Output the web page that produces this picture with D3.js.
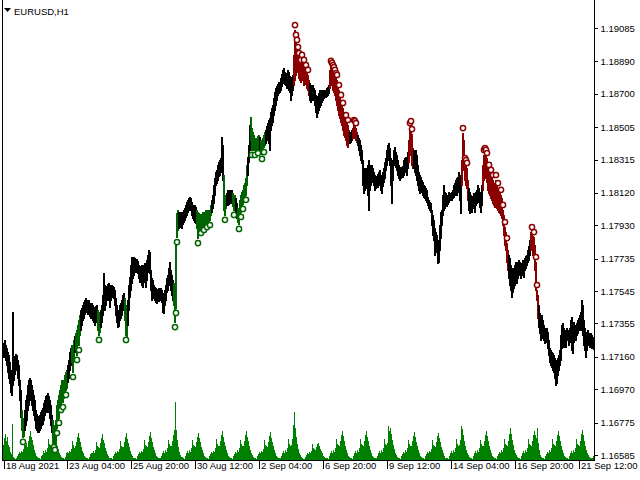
<!DOCTYPE html>
<html><head><meta charset="utf-8">
<script src="https://cdn.jsdelivr.net/npm/d3@7"></script>
<style>body{margin:0;background:#fff}svg{display:block}text{font-family:"Liberation Sans",Arial,sans-serif}</style>
</head><body><svg id="c" width="640" height="480"></svg>
<script>
const symbol = "EURUSD,H1";
const highs = [
1.17240,1.17258,1.17229,1.17211,1.17188,1.17171,1.17129,1.17083,1.17054,1.17422,
1.17141,1.17165,1.17177,1.17171,1.17141,1.17112,1.17024,1.16966,1.16849,1.16790,
1.16802,1.16849,1.16907,1.16937,1.16995,1.17024,1.17036,1.17024,1.16995,1.16966,
1.16937,1.16907,1.16849,1.16826,1.16814,1.16802,1.16820,1.16837,1.16849,1.16860,
1.16889,1.16907,1.16931,1.16937,1.16948,1.16931,1.16907,1.16878,1.16820,1.16790,
1.16761,1.16743,1.16790,1.16878,1.16907,1.16937,1.16966,1.16995,1.17024,1.17006,
1.17024,1.17054,1.17071,1.17083,1.17112,1.17141,1.17188,1.17211,1.17229,1.17229,
1.17258,1.17282,1.17299,1.17317,1.17346,1.17375,1.17405,1.17434,1.17446,1.17464,
1.17481,1.17493,1.17504,1.17493,1.17481,1.17493,1.17475,1.17464,1.17475,1.17464,
1.17452,1.17434,1.17458,1.17464,1.17434,1.17422,1.17405,1.17434,1.17464,1.17522,
1.17650,1.17581,1.17563,1.17575,1.17587,1.17592,1.17581,1.17569,1.17581,1.17575,
1.17569,1.17551,1.17504,1.17464,1.17434,1.17422,1.17464,1.17475,1.17493,1.17522,
1.17533,1.17504,1.17464,1.17434,1.17493,1.17581,1.17627,1.17698,1.17744,1.17738,
1.17744,1.17738,1.17727,1.17732,1.17721,1.17698,1.17680,1.17692,1.17698,1.17680,
1.17698,1.17709,1.17692,1.17727,1.17756,1.17785,1.17773,1.17668,1.17621,1.17610,
1.17581,1.17569,1.17563,1.17551,1.17557,1.17563,1.17551,1.17563,1.17551,1.17533,
1.17522,1.17551,1.17581,1.17621,1.17639,1.17680,1.17715,1.17668,1.17639,1.17610,
1.17592,1.17522,1.17844,1.18002,1.18020,1.18008,1.18002,1.18008,1.17997,1.18008,
1.18020,1.18031,1.18049,1.18066,1.18078,1.18090,1.18096,1.18090,1.18066,1.18049,
1.18037,1.18049,1.18037,1.18020,1.18008,1.18002,1.17991,1.17997,1.17991,1.18008,
1.18002,1.18008,1.18020,1.18014,1.18020,1.18008,1.18020,1.18049,1.18078,1.18108,
1.18166,1.18207,1.18242,1.18254,1.18283,1.18300,1.18312,1.18324,1.18447,1.18400,
1.18225,1.18090,1.18108,1.18119,1.18137,1.18125,1.18137,1.18131,1.18137,1.18119,
1.18102,1.18108,1.18090,1.18060,1.18031,1.18020,1.18078,1.18108,1.18125,1.18137,
1.18166,1.18177,1.18207,1.18283,1.18330,1.18400,1.18517,1.18564,1.18499,1.18476,
1.18459,1.18441,1.18429,1.18441,1.18453,1.18459,1.18447,1.18429,1.18423,1.18441,
1.18459,1.18476,1.18488,1.18511,1.18528,1.18546,1.18558,1.18593,1.18617,1.18635,
1.18675,1.18710,1.18734,1.18746,1.18758,1.18769,1.18763,1.18792,1.18816,1.18839,
1.18851,1.18827,1.18821,1.18810,1.18839,1.18827,1.18804,1.18781,1.18798,1.18810,
1.18927,1.19073,1.19015,1.18986,1.18944,1.18909,1.18886,1.18869,1.18898,1.18886,
1.18869,1.18851,1.18839,1.18827,1.18810,1.18781,1.18763,1.18752,1.18740,1.18752,
1.18734,1.18722,1.18693,1.18675,1.18687,1.18704,1.18722,1.18710,1.18722,1.18710,
1.18722,1.18716,1.18722,1.18734,1.18740,1.18752,1.18839,1.18863,1.18851,1.18839,
1.18827,1.18810,1.18792,1.18781,1.18752,1.18722,1.18693,1.18664,1.18646,1.18617,
1.18593,1.18576,1.18546,1.18534,1.18517,1.18488,1.18476,1.18470,1.18488,1.18499,
1.18517,1.18511,1.18499,1.18476,1.18459,1.18441,1.18429,1.18400,1.18371,1.18312,
1.18266,1.18254,1.18266,1.18254,1.18283,1.18312,1.18283,1.18266,1.18283,1.18266,
1.18242,1.18225,1.18213,1.18219,1.18231,1.18242,1.18254,1.18225,1.18207,1.18242,
1.18266,1.18300,1.18324,1.18371,1.18400,1.18411,1.18382,1.18324,1.18254,1.18312,
1.18371,1.18388,1.18359,1.18342,1.18312,1.18283,1.18271,1.18266,1.18271,1.18277,
1.18312,1.18324,1.18330,1.18312,1.18359,1.18429,1.18499,1.18511,1.18464,1.18382,
1.18371,1.18359,1.18371,1.18342,1.18283,1.18242,1.18225,1.18213,1.18195,1.18183,
1.18166,1.18160,1.18148,1.18137,1.18096,1.18078,1.18066,1.18060,1.18020,1.17991,
1.17961,1.17914,1.17890,1.17873,1.17815,1.17844,1.17932,1.18008,1.18020,1.18108,
1.18166,1.18125,1.18119,1.18102,1.18108,1.18125,1.18113,1.18119,1.18125,1.18137,
1.18166,1.18177,1.18195,1.18207,1.18213,1.18242,1.18225,1.18207,1.18312,1.18470,
1.18429,1.18294,1.18283,1.18266,1.18195,1.18148,1.18125,1.18108,1.18096,1.18102,
1.18119,1.18108,1.18125,1.18137,1.18166,1.18148,1.18125,1.18108,1.18166,1.18283,
1.18342,1.18353,1.18342,1.18324,1.18283,1.18254,1.18242,1.18225,1.18207,1.18195,
1.18166,1.18177,1.18195,1.18166,1.18148,1.18137,1.18119,1.18108,1.18090,1.18020,
1.17991,1.17920,1.17890,1.17826,1.17785,1.17756,1.17738,1.17698,1.17668,1.17680,
1.17668,1.17698,1.17715,1.17680,1.17715,1.17727,1.17715,1.17698,1.17709,1.17727,
1.17715,1.17738,1.17750,1.17756,1.17785,1.17809,1.17844,1.17890,1.17890,1.17867,
1.17861,1.17815,1.17715,1.17551,1.17522,1.17464,1.17416,1.17387,1.17405,1.17375,
1.17346,1.17328,1.17317,1.17328,1.17305,1.17258,1.17211,1.17200,1.17188,1.17182,
1.17171,1.17153,1.17141,1.17129,1.17153,1.17171,1.17200,1.17288,1.17346,1.17357,
1.17328,1.17317,1.17305,1.17328,1.17317,1.17305,1.17328,1.17375,1.17393,1.17346,
1.17363,1.17346,1.17334,1.17357,1.17375,1.17387,1.17405,1.17422,1.17493,1.17464,
1.17375,1.17328,1.17288,1.17305,1.17317,1.17299,1.17288,1.17299,1.17288,1.17276,1.17258];
const lows = [
1.17159,1.17188,1.17141,1.17112,1.17071,1.17036,1.17006,1.16954,1.16937,1.16995,
1.17024,1.17060,1.17094,1.17083,1.17036,1.16995,1.16907,1.16808,1.16732,1.16691,
1.16697,1.16732,1.16761,1.16790,1.16849,1.16878,1.16919,1.16907,1.16878,1.16849,
1.16820,1.16790,1.16743,1.16732,1.16720,1.16720,1.16732,1.16743,1.16761,1.16767,
1.16790,1.16820,1.16849,1.16837,1.16860,1.16837,1.16802,1.16761,1.16720,1.16685,
1.16661,1.16644,1.16673,1.16743,1.16761,1.16802,1.16849,1.16878,1.16907,1.16895,
1.16919,1.16948,1.16966,1.16977,1.17012,1.17036,1.17083,1.17112,1.17129,1.17071,
1.17153,1.17188,1.17200,1.17171,1.17240,1.17229,1.17288,1.17317,1.17346,1.17375,
1.17387,1.17411,1.17422,1.17434,1.17411,1.17422,1.17399,1.17387,1.17405,1.17375,
1.17363,1.17346,1.17387,1.17363,1.17317,1.17288,1.17305,1.17334,1.17363,1.17405,
1.17464,1.17434,1.17464,1.17493,1.17504,1.17493,1.17452,1.17493,1.17510,1.17516,
1.17504,1.17464,1.17405,1.17363,1.17334,1.17340,1.17375,1.17387,1.17405,1.17434,
1.17446,1.17375,1.17288,1.17276,1.17346,1.17434,1.17510,1.17551,1.17592,1.17621,
1.17639,1.17656,1.17656,1.17668,1.17650,1.17621,1.17598,1.17610,1.17581,1.17569,
1.17598,1.17610,1.17569,1.17610,1.17656,1.17680,1.17650,1.17551,1.17493,1.17510,
1.17504,1.17493,1.17481,1.17475,1.17493,1.17487,1.17493,1.17504,1.17481,1.17422,
1.17416,1.17464,1.17493,1.17539,1.17551,1.17581,1.17598,1.17551,1.17522,1.17493,
1.17464,1.17363,1.17446,1.17861,1.17902,1.17914,1.17920,1.17932,1.17914,1.17938,
1.17949,1.17961,1.17979,1.17991,1.18008,1.18020,1.18031,1.18020,1.17991,1.17973,
1.17961,1.17949,1.17943,1.17914,1.17855,1.17890,1.17902,1.17914,1.17914,1.17926,
1.17932,1.17938,1.17943,1.17949,1.17949,1.17943,1.17961,1.17991,1.18008,1.18031,
1.18060,1.18108,1.18166,1.18177,1.18195,1.18219,1.18225,1.18242,1.18283,1.18195,
1.18020,1.17991,1.18031,1.18049,1.18049,1.18055,1.18066,1.18060,1.18078,1.18043,
1.18020,1.18031,1.18008,1.17973,1.17949,1.17938,1.17985,1.18008,1.18031,1.18055,
1.18078,1.18090,1.18108,1.18166,1.18225,1.18300,1.18371,1.18429,1.18371,1.18382,
1.18371,1.18371,1.18359,1.18371,1.18382,1.18371,1.18359,1.18353,1.18348,1.18371,
1.18388,1.18400,1.18411,1.18429,1.18441,1.18411,1.18371,1.18488,1.18517,1.18534,
1.18576,1.18605,1.18635,1.18664,1.18693,1.18704,1.18710,1.18722,1.18746,1.18763,
1.18781,1.18758,1.18752,1.18734,1.18763,1.18722,1.18710,1.18664,1.18693,1.18722,
1.18752,1.18781,1.18810,1.18839,1.18827,1.18792,1.18781,1.18769,1.18792,1.18781,
1.18752,1.18763,1.18758,1.18734,1.18722,1.18693,1.18664,1.18652,1.18664,1.18675,
1.18664,1.18635,1.18593,1.18564,1.18587,1.18605,1.18623,1.18635,1.18652,1.18664,
1.18675,1.18681,1.18681,1.18687,1.18693,1.18704,1.18734,1.18769,1.18752,1.18722,
1.18710,1.18693,1.18664,1.18635,1.18605,1.18576,1.18558,1.18534,1.18517,1.18488,
1.18459,1.18447,1.18429,1.18400,1.18388,1.18411,1.18411,1.18417,1.18429,1.18441,
1.18459,1.18441,1.18429,1.18417,1.18400,1.18371,1.18342,1.18312,1.18294,1.18166,
1.18119,1.18137,1.18166,1.18148,1.18108,1.18020,1.18137,1.18166,1.18183,1.18195,
1.18166,1.18137,1.18148,1.18160,1.18154,1.18177,1.18166,1.18137,1.18119,1.18160,
1.18183,1.18207,1.18254,1.18283,1.18312,1.18324,1.18283,1.18166,1.18060,1.18195,
1.18283,1.18300,1.18271,1.18254,1.18225,1.18207,1.18195,1.18207,1.18219,1.18213,
1.18225,1.18254,1.18242,1.18225,1.18266,1.18300,1.18342,1.18371,1.18283,1.18266,
1.18266,1.18242,1.18225,1.18195,1.18166,1.18137,1.18119,1.18137,1.18125,1.18108,
1.18096,1.18090,1.18078,1.18066,1.18049,1.18031,1.18020,1.18008,1.17932,1.17873,
1.17844,1.17756,1.17797,1.17773,1.17709,1.17715,1.17785,1.17855,1.17932,1.17991,
1.18020,1.18031,1.18049,1.18043,1.18055,1.18066,1.18078,1.18078,1.18078,1.18090,
1.18096,1.18108,1.18125,1.18108,1.18125,1.18148,1.18078,1.18002,1.18166,1.18254,
1.18283,1.18195,1.18166,1.18148,1.18078,1.18020,1.18002,1.18020,1.18008,1.18031,
1.18037,1.18008,1.18049,1.18060,1.18090,1.18066,1.18037,1.18008,1.18049,1.18137,
1.18195,1.18225,1.18207,1.18183,1.18137,1.18119,1.18108,1.18090,1.18078,1.18060,
1.18049,1.18037,1.18049,1.18031,1.18020,1.18008,1.18002,1.17991,1.17973,1.17932,
1.17873,1.17815,1.17785,1.17715,1.17668,1.17621,1.17581,1.17551,1.17510,1.17539,
1.17563,1.17581,1.17598,1.17592,1.17621,1.17656,1.17639,1.17621,1.17639,1.17656,
1.17627,1.17668,1.17680,1.17698,1.17715,1.17727,1.17756,1.17785,1.17785,1.17756,
1.17738,1.17668,1.17551,1.17493,1.17387,1.17334,1.17299,1.17258,1.17288,1.17270,
1.17258,1.17240,1.17246,1.17258,1.17211,1.17171,1.17129,1.17112,1.17100,1.17083,
1.17071,1.17036,1.16995,1.17006,1.17054,1.17083,1.17112,1.17141,1.17211,1.17229,
1.17217,1.17229,1.17217,1.17258,1.17258,1.17229,1.17246,1.17270,1.17200,1.17182,
1.17246,1.17270,1.17258,1.17288,1.17299,1.17317,1.17328,1.17317,1.17346,1.17288,
1.17229,1.17200,1.17159,1.17200,1.17229,1.17246,1.17217,1.17229,1.17211,1.17217,1.17206];
const volumes = [
1500,2200,2600,1900,2300,1500,1300,800,600,3600,350,
200,150,180,380,600,850,700,950,800,1150,2000,1500,1700,1300,1900,2400,2900,2300,2000,1500,1000,750,450,280,
230,170,150,420,550,900,750,1000,850,1200,2100,1650,1500,1350,2100,2600,3000,2500,1900,1450,1100,700,480,300,
250,180,140,350,650,800,700,900,780,1100,1900,1500,1250,1400,1800,2300,2700,2200,1800,1300,950,650,420,260,
200,160,130,330,600,750,680,880,720,1050,1850,1400,1300,1250,1700,2200,2600,2050,1700,1250,900,600,400,240,
210,170,140,360,620,820,700,920,760,1100,1950,1450,1350,1300,1800,2300,2750,2150,1750,1300,950,640,420,250,
230,180,150,380,640,850,720,950,800,1150,2000,1550,1400,1350,1850,2400,2850,2250,1800,1350,980,660,440,270,
240,190,160,400,660,870,740,980,820,1200,2050,1600,1450,1400,1900,2500,3000,5800,3000,2000,1300,800,500,300,
260,190,150,390,660,860,730,960,810,1180,2000,1550,1400,1350,1850,2350,2700,2200,1800,1350,980,650,430,260,
220,170,140,370,630,840,720,950,800,1160,2100,1600,1450,1400,1900,2500,2900,2300,1850,1400,1000,680,450,270,
230,180,150,380,640,850,720,960,810,1170,2050,1580,1420,1380,1880,2550,2950,2350,1900,1420,1020,700,460,280,
220,170,140,370,630,840,710,950,800,1150,2000,1550,1400,1350,1850,2450,2850,2250,1800,1380,990,670,440,260,
250,190,160,400,670,880,750,990,830,1200,2100,1600,1450,1500,2100,3500,4800,3200,2300,1600,1100,750,480,290,
180,140,120,300,520,680,600,800,680,950,1600,1250,1100,1050,1300,1600,1700,1400,1150,900,650,450,300,180,
230,180,150,390,650,860,730,970,820,1180,2150,1650,1480,1420,1950,2550,2950,2400,1900,1420,1020,690,450,270,
240,180,150,390,660,870,740,980,830,1200,2100,1620,1460,1400,1920,2500,2900,2350,1880,1400,1000,680,440,270,
250,190,160,400,670,880,750,990,840,1220,2150,1650,1500,1700,3400,2900,3200,2600,2000,1500,1080,720,470,290,
230,170,150,380,640,850,720,960,810,1170,2050,1580,1420,1380,1880,2450,2800,2300,1850,1380,990,670,440,260,
220,170,140,370,620,830,710,940,790,1150,2000,1550,1400,1350,1850,2400,2750,2250,1800,1350,970,650,430,250,
230,180,150,390,650,860,730,970,820,1180,2100,1600,1450,1500,2000,3400,3100,2500,1950,1450,1040,700,460,280,
240,180,150,390,660,870,740,980,830,1190,2050,1600,1450,1420,1900,2500,2900,2400,1900,1420,1020,690,450,270,
220,170,140,380,640,850,720,960,810,1170,2100,1620,1480,1450,1950,2600,3200,2600,2000,1480,1050,710,460,280,
240,180,150,390,670,880,750,990,840,1210,2150,1650,1500,1450,1950,2500,2900,2500,2200,3200,1700,1000,550,300,
220,170,140,380,640,850,720,960,810,1170,2100,1620,1470,1430,1920,2550,2950,2400,1900,1420,1020,690,450,270,
230,180,150,390,660,870,740,980,830,1200,2150,1650,1500,1450,1950,2600,3000,2500,1950,1450,1040,700,460,280,
250,190,160,400];
const buySignals = [19,50,51,53,55,57,59,62,69,73,75,95,122,171,172,173,194,197,200,203,206,221,230,235,237,239,242,248,251,254,258,260];
const sellSignals = [291,292,293,294,295,297,298,300,302,304,327,328,329,330,331,332,333,335,337,339,342,344,350,351,352,406,407,408,459,461,462,463,480,481,482,483,485,487,489,492,494,497,499,501,503,528,530,532,533];
const priceTicks = [1.19085,1.18890,1.18700,1.18505,1.18315,1.18120,1.17930,1.17735,1.17545,1.17355,1.17160,1.16970,1.16775,1.16585];
const timeLabels = ["18 Aug 2021","23 Aug 04:00","25 Aug 20:00","30 Aug 12:00","2 Sep 04:00","6 Sep 20:00","9 Sep 12:00","14 Sep 04:00","16 Sep 20:00","21 Sep 12:00"];
const timeTickIndex = [0,63,127,191,255,319,383,447,511,575];

const svg = d3.select("#c");
const n = highs.length;
const x = d3.scaleLinear().domain([0, n - 1]).range([3, 593]);
const y = d3.scaleLinear().domain([1.16585, 1.19085]).range([455, 28]);
const yv = d3.scaleLinear().domain([0, 6000]).range([460, 400]);
const idx = d3.range(n);

const GREEN = "#006400", RED = "#8b0000", VOL = "#008000";
const buyZone = new Set(), sellZone = new Set();
buySignals.forEach(i => { buyZone.add(i - 1); buyZone.add(i); buyZone.add(i + 1); });
sellSignals.forEach(i => { sellZone.add(i - 1); sellZone.add(i); sellZone.add(i + 1); });

// volume histogram
svg.append("g").selectAll("rect").data(idx).join("rect")
  .attr("x", i => x(i)).attr("width", 1)
  .attr("y", i => Math.round(yv(volumes[i]))).attr("height", i => yv(0) - Math.round(yv(volumes[i])))
  .attr("fill", VOL).attr("shape-rendering", "crispEdges");

// price bars (high-low, 2px wide)
svg.append("g").selectAll("rect").data(idx).join("rect")
  .attr("x", i => x(i)).attr("width", 2)
  .attr("y", i => Math.round(y(highs[i])))
  .attr("height", i => Math.max(1, Math.round(y(lows[i])) - Math.round(y(highs[i])) + 1))
  .attr("fill", i => buyZone.has(i) ? GREEN : sellZone.has(i) ? RED : "#000")
  .attr("shape-rendering", "crispEdges");

// signal circles
svg.append("g").selectAll("circle").data(buySignals).join("circle")
  .attr("cx", i => x(i) + 1).attr("cy", i => y(lows[i]) + 5).attr("r", 2.6)
  .attr("fill", "#fff").attr("stroke", GREEN).attr("stroke-width", 1.5);
svg.append("g").selectAll("circle").data(sellSignals).join("circle")
  .attr("cx", i => x(i) + 1).attr("cy", i => y(highs[i]) - 5).attr("r", 2.6)
  .attr("fill", "#fff").attr("stroke", RED).attr("stroke-width", 1.5);

// frame
svg.append("path").attr("d", "M2.5,0V460.5H594.5V0").attr("fill", "none")
  .attr("stroke", "#000").attr("shape-rendering", "crispEdges");

// price axis
const ya = svg.append("g").attr("transform", "translate(594.5,0)")
  .call(d3.axisRight(y).tickValues(priceTicks).tickSize(3).tickPadding(3).tickFormat(d3.format(".5f")));
ya.select(".domain").remove();
ya.selectAll("line").attr("shape-rendering", "crispEdges");
ya.selectAll("text").attr("font-size", "9.5px").attr("font-family", "Liberation Sans, Arial, sans-serif").attr("fill", "#000");

// time axis
const xa = svg.append("g").attr("transform", "translate(0.5,460.5)")
  .call(d3.axisBottom(x).tickValues(timeTickIndex).tickSize(8).tickPadding(-6).tickFormat((d, i) => timeLabels[i]));
xa.select(".domain").remove();
xa.selectAll("line").attr("shape-rendering", "crispEdges");
xa.selectAll("text").attr("text-anchor", "start").attr("dx", 2)
  .attr("font-size", "9.5px").attr("font-family", "Liberation Sans, Arial, sans-serif").attr("fill", "#000");

// symbol label
svg.append("rect").attr("x", 3).attr("y", 2).attr("width", 70).attr("height", 18).attr("fill", "#fff");
svg.append("path").attr("d", "M4,8H11L7.5,12Z").attr("fill", "#000");
svg.append("text").attr("x", 14).attr("y", 15).attr("font-size", "9.5px").attr("fill", "#000").text(symbol);
</script></body></html>
